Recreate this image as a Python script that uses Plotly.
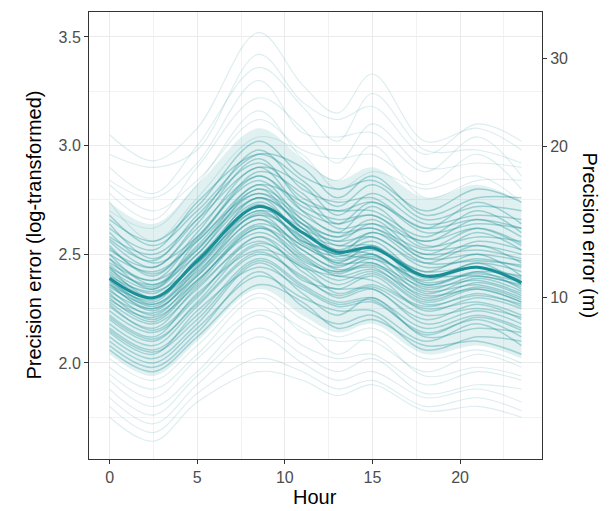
import numpy as np
import plotly.graph_objects as go

# knot hours for each daily curve
hours = [0, 2.5, 5, 8.5, 11, 13, 15, 18, 21, 23.5]

# population-level mean (log precision error)
mean_curve = [2.39, 2.30, 2.47, 2.72, 2.60, 2.51, 2.53, 2.40, 2.44, 2.37]

# individual device curves
upper_curves = [
    [3.05, 2.93, 3.08, 3.52, 3.28, 3.15, 3.33, 3.02, 3.08, 2.98],
    [2.96, 2.90, 2.98, 3.42, 3.20, 3.12, 3.18, 2.96, 3.10, 3.02],
    [2.90, 2.78, 3.00, 3.36, 3.18, 3.02, 3.24, 2.98, 2.98, 2.92],
    [2.84, 2.76, 2.92, 3.30, 3.06, 3.04, 3.06, 2.88, 3.04, 2.86],
    [2.78, 2.66, 2.90, 3.22, 3.08, 2.92, 3.10, 2.90, 2.92, 2.90],
    [2.82, 2.70, 2.84, 3.12, 2.98, 2.94, 2.96, 2.82, 2.96, 2.80],
    [2.70, 2.62, 2.82, 3.16, 2.94, 2.84, 3.00, 2.76, 2.84, 2.84],
    [2.74, 2.56, 2.76, 3.04, 2.96, 2.80, 2.88, 2.80, 2.86, 2.74],
]
upper_mid_curves = [
    [2.66, 2.56, 2.72, 3.02, 2.86, 2.80, 2.84, 2.70, 2.80, 2.74],
    [2.62, 2.52, 2.74, 2.96, 2.84, 2.72, 2.82, 2.66, 2.72, 2.70],
    [2.64, 2.48, 2.66, 2.98, 2.80, 2.74, 2.76, 2.62, 2.74, 2.64],
    [2.58, 2.50, 2.66, 2.90, 2.82, 2.68, 2.78, 2.64, 2.68, 2.66],
    [2.56, 2.44, 2.64, 2.94, 2.74, 2.70, 2.70, 2.58, 2.70, 2.60],
    [2.60, 2.46, 2.58, 2.88, 2.78, 2.64, 2.74, 2.60, 2.64, 2.62],
    [2.52, 2.44, 2.62, 2.86, 2.72, 2.66, 2.68, 2.56, 2.66, 2.58],
    [2.54, 2.40, 2.60, 2.90, 2.70, 2.60, 2.72, 2.54, 2.58, 2.56],
    [2.50, 2.42, 2.56, 2.82, 2.74, 2.62, 2.64, 2.56, 2.62, 2.54],
    [2.48, 2.38, 2.58, 2.84, 2.66, 2.58, 2.66, 2.50, 2.60, 2.52],
    [2.50, 2.36, 2.54, 2.80, 2.68, 2.60, 2.62, 2.52, 2.54, 2.50],
    [2.46, 2.38, 2.52, 2.82, 2.64, 2.56, 2.64, 2.48, 2.56, 2.52],
    [2.48, 2.34, 2.56, 2.78, 2.66, 2.54, 2.60, 2.50, 2.52, 2.48],
    [2.44, 2.36, 2.50, 2.80, 2.62, 2.56, 2.58, 2.46, 2.54, 2.46],
    [2.68, 2.54, 2.70, 2.96, 2.90, 2.76, 2.86, 2.68, 2.76, 2.76],
    [2.57, 2.47, 2.68, 2.92, 2.76, 2.70, 2.74, 2.62, 2.66, 2.62],
    [2.53, 2.41, 2.57, 2.86, 2.70, 2.64, 2.68, 2.53, 2.62, 2.55],
    [2.45, 2.35, 2.53, 2.76, 2.64, 2.58, 2.62, 2.48, 2.50, 2.47],
]
middle_curves = [
    [2.42, 2.32, 2.50, 2.76, 2.64, 2.52, 2.58, 2.44, 2.48, 2.44],
    [2.44, 2.30, 2.48, 2.74, 2.60, 2.54, 2.54, 2.42, 2.50, 2.40],
    [2.40, 2.33, 2.46, 2.76, 2.58, 2.50, 2.56, 2.40, 2.46, 2.42],
    [2.38, 2.28, 2.48, 2.70, 2.62, 2.48, 2.52, 2.42, 2.44, 2.38],
    [2.41, 2.30, 2.44, 2.72, 2.56, 2.52, 2.50, 2.38, 2.46, 2.36],
    [2.36, 2.29, 2.46, 2.68, 2.58, 2.46, 2.54, 2.36, 2.42, 2.40],
    [2.38, 2.26, 2.44, 2.70, 2.56, 2.50, 2.48, 2.40, 2.40, 2.36],
    [2.35, 2.27, 2.42, 2.66, 2.54, 2.47, 2.50, 2.36, 2.42, 2.34],
    [2.37, 2.24, 2.43, 2.68, 2.52, 2.44, 2.50, 2.34, 2.40, 2.35],
    [2.33, 2.25, 2.40, 2.64, 2.54, 2.46, 2.46, 2.35, 2.38, 2.32],
    [2.34, 2.22, 2.40, 2.66, 2.50, 2.42, 2.48, 2.32, 2.39, 2.33],
    [2.31, 2.23, 2.38, 2.62, 2.52, 2.43, 2.45, 2.33, 2.36, 2.30],
    [2.32, 2.20, 2.38, 2.60, 2.48, 2.41, 2.46, 2.30, 2.37, 2.31],
    [2.29, 2.21, 2.36, 2.62, 2.49, 2.40, 2.43, 2.31, 2.34, 2.28],
    [2.43, 2.34, 2.52, 2.78, 2.62, 2.50, 2.60, 2.46, 2.47, 2.45],
    [2.39, 2.27, 2.45, 2.73, 2.55, 2.49, 2.53, 2.39, 2.44, 2.39],
    [2.36, 2.25, 2.41, 2.69, 2.57, 2.45, 2.49, 2.37, 2.41, 2.37],
    [2.30, 2.19, 2.37, 2.63, 2.47, 2.42, 2.44, 2.29, 2.35, 2.29],
]
lower_mid_curves = [
    [2.28, 2.18, 2.34, 2.58, 2.46, 2.38, 2.42, 2.28, 2.34, 2.28],
    [2.26, 2.16, 2.35, 2.56, 2.44, 2.40, 2.38, 2.26, 2.32, 2.26],
    [2.24, 2.14, 2.30, 2.58, 2.42, 2.34, 2.40, 2.24, 2.30, 2.25],
    [2.22, 2.12, 2.32, 2.52, 2.44, 2.32, 2.36, 2.25, 2.28, 2.22],
    [2.20, 2.10, 2.28, 2.54, 2.38, 2.34, 2.34, 2.20, 2.27, 2.20],
    [2.18, 2.08, 2.26, 2.50, 2.40, 2.30, 2.34, 2.18, 2.24, 2.18],
    [2.16, 2.06, 2.22, 2.48, 2.36, 2.28, 2.30, 2.16, 2.22, 2.16],
    [2.14, 2.04, 2.24, 2.44, 2.34, 2.26, 2.28, 2.14, 2.20, 2.12],
    [2.12, 2.02, 2.18, 2.46, 2.32, 2.22, 2.30, 2.12, 2.16, 2.14],
    [2.10, 2.00, 2.16, 2.40, 2.30, 2.24, 2.24, 2.10, 2.18, 2.08],
    [2.08, 1.98, 2.14, 2.42, 2.26, 2.18, 2.22, 2.06, 2.12, 2.10],
    [2.06, 1.96, 2.12, 2.36, 2.28, 2.16, 2.20, 2.08, 2.10, 2.04],
    [2.27, 2.15, 2.31, 2.55, 2.45, 2.36, 2.41, 2.27, 2.31, 2.27],
    [2.21, 2.11, 2.27, 2.51, 2.39, 2.31, 2.35, 2.22, 2.25, 2.21],
    [2.15, 2.05, 2.20, 2.47, 2.35, 2.27, 2.29, 2.13, 2.21, 2.15],
]
lower_curves = [
    [2.02, 1.92, 2.08, 2.32, 2.20, 2.12, 2.16, 2.02, 2.06, 2.00],
    [1.98, 1.88, 2.04, 2.30, 2.14, 2.10, 2.10, 1.96, 2.04, 1.98],
    [1.95, 1.84, 2.02, 2.24, 2.16, 2.04, 2.12, 1.94, 1.98, 1.94],
    [1.92, 1.80, 1.96, 2.22, 2.08, 2.02, 2.04, 1.90, 1.96, 1.92],
    [1.88, 1.76, 1.94, 2.16, 2.04, 1.96, 2.02, 1.86, 1.90, 1.88],
    [1.84, 1.72, 1.90, 2.12, 2.00, 1.92, 1.96, 1.84, 1.88, 1.82],
    [1.80, 1.68, 1.86, 2.02, 1.96, 1.88, 1.92, 1.80, 1.84, 1.78],
    [1.75, 1.64, 1.82, 1.96, 1.92, 1.85, 1.90, 1.78, 1.80, 1.75],
]

# faint band where the curves are densest
band_hi = [2.74, 2.64, 2.82, 3.08, 2.94, 2.84, 2.90, 2.76, 2.82, 2.74]
band_lo = [2.04, 1.94, 2.10, 2.34, 2.22, 2.14, 2.18, 2.04, 2.08, 2.02]

right_ticks_m = [10, 20, 30]

teal = "#1b8f97"
font_family = "Liberation Sans, Arial"
fig = go.Figure()

fig.add_trace(go.Scatter(x=hours, y=band_lo, mode="lines", line=dict(width=0, shape="spline"),
                         hoverinfo="skip", showlegend=False))
fig.add_trace(go.Scatter(x=hours, y=band_hi, mode="lines", line=dict(width=0, shape="spline"),
                         fill="tonexty", fillcolor="rgba(27,143,151,0.13)",
                         hoverinfo="skip", showlegend=False))

groups = [(upper_curves, 0.15, 1.1), (upper_mid_curves, 0.34, 1.5), (middle_curves, 0.36, 1.5),
          (lower_mid_curves, 0.32, 1.5), (lower_curves, 0.15, 1.1)]
for curves, alpha, w in groups:
    for c in curves:
        fig.add_trace(go.Scatter(x=hours, y=c, mode="lines",
                                 line=dict(color=teal, width=w, shape="spline", smoothing=1.0),
                                 opacity=alpha, hoverinfo="skip", showlegend=False))

fig.add_trace(go.Scatter(x=hours, y=mean_curve, mode="lines",
                         line=dict(color=teal, width=3, shape="spline", smoothing=1.0),
                         showlegend=False))

# dummy trace so the secondary axis is drawn
fig.add_trace(go.Scatter(x=[hours[0]], y=[mean_curve[0]], yaxis="y2", mode="markers",
                         marker=dict(opacity=0), hoverinfo="skip", showlegend=False))

yrange = [1.558, 3.615]
tick_style = dict(showline=True, linecolor="#333333", linewidth=1,
                  ticks="outside", ticklen=4, tickcolor="#333333",
                  tickfont=dict(family=font_family, size=16, color="#4d4d4d"),
                  zeroline=False)

# plot area in pixels
L, R, T, B = 89, 67, 12, 52
pw, ph = 609 - L - R, 511 - T - B

def px_to_paper(x, y):
    return (x - L) / pw, 1 - (y - T) / ph

titles = [("Precision error (log-transformed)", 33, 235.5, -90),
          ("Precision error (m)", 590, 235.5, 90),
          ("Hour", 315, 497, 0)]
annotations = []
for text, xp, yp, ang in titles:
    ax, ay = px_to_paper(xp, yp)
    annotations.append(dict(text=text, x=ax, y=ay, xref="paper", yref="paper",
                            xanchor="center", yanchor="middle", showarrow=False,
                            textangle=ang, font=dict(family=font_family, size=20, color="black")))

fig.update_layout(
    width=609, height=511,
    margin=dict(l=L, r=R, t=T, b=B, autoexpand=False),
    paper_bgcolor="white", plot_bgcolor="white",
    xaxis=dict(range=[-1.175, 24.675], tickvals=[0, 5, 10, 15, 20],
               showgrid=True, gridcolor="#ebebeb", gridwidth=1, mirror=True,
               minor=dict(tickvals=[2.5, 7.5, 12.5, 17.5, 22.5], showgrid=True,
                          gridcolor="#f2f2f2", gridwidth=0.6, ticks=""),
               **tick_style),
    yaxis=dict(range=yrange, tickvals=[2.0, 2.5, 3.0, 3.5],
               ticktext=["2.0", "2.5", "3.0", "3.5"],
               showgrid=True, gridcolor="#ebebeb", gridwidth=1,
               minor=dict(tickvals=[1.75, 2.25, 2.75, 3.25], showgrid=True,
                          gridcolor="#f2f2f2", gridwidth=0.6, ticks=""),
               **tick_style),
    yaxis2=dict(range=yrange, overlaying="y", side="right",
                tickvals=[float(np.log(v)) for v in right_ticks_m],
                ticktext=[str(v) for v in right_ticks_m],
                showgrid=False, **tick_style),
    annotations=annotations,
)

# drop the browser's default body margin so the figure sits at the page corner
fig.write_html("out.html", config={"displayModeBar": False},
               post_script="document.body.style.margin='0';")
